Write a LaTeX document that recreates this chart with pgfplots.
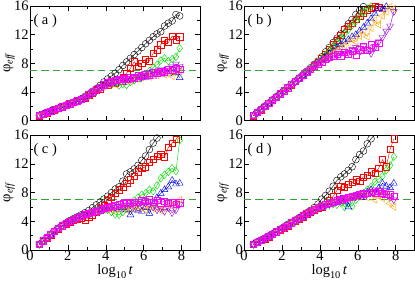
\documentclass[border=0pt]{standalone}
\usepackage{fontspec}
\setmainfont{Liberation Serif}
\usepackage{pgfplots}
\usepackage{pgfplotstable}
\pgfplotsset{compat=1.18}
\usepgfplotslibrary{groupplots}

\definecolor{cgreen}{RGB}{0,220,0}
\definecolor{corange}{RGB}{255,165,0}
\definecolor{cviolet}{RGB}{148,0,211}
\definecolor{cmag}{RGB}{255,0,255}
\definecolor{dashgreen}{RGB}{50,165,50}

\pgfplotstableread{
x k r g b o v m
0.5 0.75 0.70 0.66 0.72 0.70 0.68 0.76
0.7 0.95 0.92 0.88 0.90 0.86 0.93 0.96
0.9 1.15 1.08 1.12 1.10 1.07 1.13 1.14
1.1 1.36 1.32 1.28 1.30 1.27 1.33 1.35
1.3 1.55 1.48 1.52 1.46 1.50 1.53 1.56
1.5 1.76 1.72 1.67 1.70 1.66 1.74 1.75
1.7 1.95 1.88 1.93 1.86 1.91 1.92 1.96
1.9 2.18 2.12 2.06 2.10 2.08 2.14 2.15
2.1 2.38 2.28 2.33 2.26 2.31 2.29 2.36
2.3 2.58 2.53 2.46 2.52 2.47 2.51 2.57
2.5 2.80 2.67 2.74 2.66 2.72 2.70 2.78
2.7 3.05 2.98 2.88 2.93 2.97 2.91 3.02
2.9 3.38 3.20 3.30 3.18 3.24 3.28 3.32
3.1 3.72 3.60 3.48 3.52 3.58 3.50 3.66
3.3 4.10 3.84 3.97 3.82 3.92 3.88 4.02
3.5 4.48 4.26 4.08 4.16 4.22 4.12 4.36
3.7 4.92 4.40 4.62 4.56 4.48 4.58 4.70
3.9 5.40 4.92 4.70 4.78 4.83 4.90 5.02
4.1 5.82 5.02 5.22 5.16 5.00 5.12 5.30
4.3 6.22 5.40 5.00 5.08 5.22 5.32 5.52
4.5 6.62 5.30 5.30 5.22 5.02 5.48 5.62
4.7 7.12 5.82 4.90 5.58 5.40 5.62 5.74
4.9 7.70 6.10 5.12 5.30 5.30 5.70 5.90
5.1 8.20 6.62 5.00 5.72 5.62 5.82 5.80
5.3 8.70 7.30 5.42 5.60 5.48 5.92 6.10
5.5 9.22 8.22 5.62 5.84 5.90 6.02 6.00
5.7 9.70 7.62 5.90 5.70 5.80 6.20 6.30
5.9 10.20 8.00 6.40 6.10 6.02 6.10 6.22
6.1 10.72 8.60 6.20 6.02 6.30 6.40 6.50
6.3 11.20 8.30 6.90 6.50 6.10 6.62 6.42
6.5 11.70 9.40 7.40 6.20 6.52 6.80 6.70
6.7 12.10 9.90 7.80 6.62 6.30 6.90 6.62
6.9 12.40 10.60 8.40 6.40 6.70 7.10 6.90
7.1 13.20 11.20 8.70 6.90 6.40 7.00 6.80
7.3 13.60 10.90 8.30 6.50 6.90 7.30 7.10
7.5 13.90 11.80 8.60 7.10 6.20 7.50 7.00
7.7 14.80 11.30 8.90 6.70 6.60 7.90 7.30
7.9 14.60 11.70 10.10 6.00 6.90 7.60 7.20
}\tA

\pgfplotstableread{
x k r g b o v m
0.5 0.74 0.70 0.67 0.72 0.69 0.66 0.75
0.7 1.18 1.15 1.10 1.12 1.08 1.14 1.16
0.9 1.62 1.54 1.58 1.52 1.56 1.59 1.60
1.1 2.05 2.01 1.95 1.98 1.93 2.00 2.03
1.3 2.48 2.40 2.45 2.38 2.42 2.44 2.46
1.5 2.92 2.88 2.82 2.84 2.80 2.86 2.89
1.7 3.36 3.25 3.30 3.24 3.29 3.27 3.31
1.9 3.78 3.74 3.68 3.70 3.66 3.72 3.75
2.1 4.22 4.12 4.17 4.10 4.15 4.13 4.18
2.3 4.65 4.60 4.54 4.55 4.52 4.58 4.61
2.5 5.08 5.03 5.02 4.96 4.98 5.01 5.04
2.7 5.52 5.46 5.45 5.38 5.40 5.42 5.47
2.9 5.96 5.90 5.88 5.82 5.84 5.83 5.90
3.1 6.42 6.33 6.34 6.24 6.25 6.27 6.32
3.3 6.88 6.78 6.80 6.66 6.70 6.68 6.74
3.5 7.36 7.22 7.25 7.08 7.12 7.10 7.16
3.7 7.84 7.66 7.70 7.50 7.52 7.52 7.58
3.9 8.30 8.12 8.14 7.92 7.82 7.90 7.92
4.1 8.90 8.70 8.62 8.40 8.20 8.20 8.18
4.3 9.60 9.30 9.20 8.80 8.62 8.50 8.52
4.5 10.20 9.90 9.80 9.30 9.00 8.70 8.80
4.7 10.90 10.60 10.32 9.70 9.40 9.02 9.02
4.9 11.50 11.20 10.90 10.20 9.80 9.20 9.22
5.1 12.10 11.90 11.50 10.60 10.12 9.40 9.00
5.3 12.80 12.70 12.10 11.00 10.50 9.62 9.50
5.5 13.50 13.20 12.70 11.30 10.80 9.50 9.30
5.7 14.10 13.60 13.30 11.70 11.30 9.90 9.70
5.9 14.80 14.10 13.90 12.00 11.00 10.20 9.20
6.1 15.40 14.60 14.50 12.50 11.80 9.60 9.90
6.3 15.90 15.00 15.10 13.00 12.40 10.40 10.30
6.5 nan 15.40 15.60 13.60 11.70 9.90 9.80
6.7 nan 15.70 15.90 14.20 12.90 9.40 10.60
6.9 nan 15.90 16.10 14.90 14.00 10.30 10.20
7.1 nan 15.80 nan 15.60 13.40 11.00 10.80
7.3 nan 16.10 nan 15.50 14.60 11.60 nan
7.5 nan nan nan 15.90 15.20 12.50 nan
7.7 nan nan nan nan 15.90 13.20 nan
7.9 nan nan nan nan 15.60 15.20 nan
}\tB

\pgfplotstableread{
x k r g b o v m
0.5 0.84 0.78 0.80 0.76 0.82 0.79 0.85
0.7 1.30 1.22 1.27 1.20 1.24 1.28 1.29
0.9 1.76 1.68 1.72 1.66 1.69 1.73 1.74
1.1 2.20 2.12 2.17 2.10 2.16 2.13 2.19
1.3 2.65 2.58 2.62 2.55 2.60 2.63 2.64
1.5 3.06 2.97 3.02 2.95 3.01 2.98 3.04
1.7 3.42 3.30 3.37 3.31 3.34 3.36 3.39
1.9 3.78 3.62 3.72 3.66 3.71 3.68 3.74
2.1 4.10 3.90 4.02 3.95 3.98 4.03 4.05
2.3 4.38 4.12 4.28 4.20 4.22 4.26 4.30
2.5 4.62 4.30 4.52 4.46 4.48 4.53 4.55
2.7 4.90 4.42 4.74 4.66 4.69 4.72 4.76
2.9 5.20 4.20 4.92 4.85 4.88 4.94 4.96
3.1 5.50 4.60 5.08 5.00 5.02 5.10 5.12
3.3 5.90 4.90 5.24 5.12 5.18 5.22 5.30
3.5 6.30 5.30 5.40 5.28 5.30 5.38 5.46
3.7 6.70 5.80 5.52 5.44 5.46 5.52 5.62
3.9 7.10 6.30 5.70 5.58 5.60 5.66 5.80
4.1 7.50 6.90 5.60 5.74 5.72 5.82 5.98
4.3 8.00 7.40 5.30 5.80 5.62 5.90 6.10
4.5 8.50 7.90 5.00 5.88 5.60 5.98 6.22
4.7 8.80 8.40 4.90 5.70 5.70 6.06 6.40
4.9 9.60 8.80 5.30 5.90 5.90 6.14 6.52
5.1 10.60 9.30 5.80 5.60 5.60 6.20 6.60
5.3 10.90 9.80 6.40 4.90 5.80 6.30 6.48
5.5 11.30 10.30 6.90 5.70 6.00 6.20 6.70
5.7 11.80 10.90 7.30 5.50 5.70 6.50 6.62
5.9 12.50 11.40 7.70 5.40 5.90 6.30 6.90
6.1 13.10 11.60 7.90 5.90 5.60 6.60 6.80
6.3 14.00 12.20 8.40 5.10 6.10 6.40 7.00
6.5 14.90 12.60 8.20 6.40 5.80 6.00 6.70
6.7 15.60 13.10 9.00 7.30 6.30 5.60 6.90
6.9 16.20 13.40 10.00 7.90 5.50 5.80 6.60
7.1 nan 13.00 10.50 8.40 5.90 5.40 6.80
7.3 nan 14.30 10.90 8.80 6.40 5.90 6.50
7.5 nan 14.90 11.40 9.70 6.10 5.20 6.70
7.7 nan 15.40 11.00 9.20 6.60 5.60 6.40
7.9 nan 16.10 15.30 9.30 7.00 6.40 6.60
}\tC

\pgfplotstableread{
x k r g b o v m
0.5 0.84 0.78 0.80 0.76 0.82 0.79 0.85
0.7 1.15 1.07 1.12 1.06 1.10 1.13 1.14
0.9 1.40 1.32 1.37 1.30 1.34 1.36 1.39
1.1 1.66 1.58 1.62 1.55 1.60 1.63 1.64
1.3 1.96 1.86 1.92 1.85 1.90 1.88 1.94
1.5 2.27 2.16 2.23 2.15 2.20 2.18 2.25
1.7 2.58 2.46 2.52 2.44 2.50 2.53 2.55
1.9 2.90 2.75 2.83 2.74 2.80 2.78 2.86
2.1 3.22 3.05 3.12 3.04 3.08 3.13 3.16
2.3 3.56 3.40 3.48 3.38 3.44 3.42 3.50
2.5 3.86 3.70 3.72 3.68 3.76 3.78 3.82
2.7 4.18 4.00 3.98 4.02 4.08 4.04 4.12
2.9 4.50 4.30 4.25 4.28 4.40 4.33 4.42
3.1 4.86 4.64 4.60 4.66 4.76 4.68 4.78
3.3 5.18 4.96 4.92 4.94 5.06 4.98 5.08
3.5 5.52 5.24 5.20 5.26 5.38 5.28 5.40
3.7 5.90 5.55 5.50 5.54 5.70 5.58 5.70
3.9 6.40 5.80 5.76 5.82 5.96 5.84 5.96
4.1 7.10 6.02 5.98 6.00 6.18 6.04 6.16
4.3 7.60 6.40 6.10 6.22 6.35 6.24 6.36
4.5 8.20 6.90 6.30 6.30 6.50 6.42 6.52
4.7 8.90 7.50 6.40 6.60 6.62 6.56 6.68
4.9 9.70 8.30 6.30 6.80 6.80 6.74 6.88
5.1 10.20 8.90 6.60 7.10 6.90 6.88 7.02
5.3 10.60 8.70 6.00 6.80 7.10 7.02 7.18
5.5 11.10 9.20 6.50 6.00 7.20 7.16 7.32
5.7 11.60 9.40 6.10 7.20 7.30 7.32 7.46
5.9 12.60 9.80 7.00 7.40 7.50 7.44 7.60
6.1 13.30 9.60 7.50 7.70 7.40 7.58 7.74
6.3 13.80 10.20 7.90 7.30 7.80 7.66 7.84
6.5 14.80 10.40 8.40 8.10 7.30 7.90 7.96
6.7 15.50 10.90 8.80 8.40 7.90 8.20 8.10
6.9 16.10 10.70 9.50 8.00 7.00 8.40 8.00
7.1 nan 11.40 9.90 8.60 7.60 8.00 8.20
7.3 nan 12.60 10.30 9.30 7.20 7.80 7.90
7.5 nan 11.60 11.10 8.90 7.70 8.30 7.80
7.7 nan 14.00 11.80 8.70 6.50 7.40 7.70
7.9 nan 15.50 13.00 9.30 6.00 7.00 7.50
}\tD

\newcommand{\fs}{\fontsize{14}{16}\selectfont}

% draws all series of one panel
\newcommand{\panel}[2]{%
  \addplot[black, line width=0.4pt, mark=o, mark size=3.3pt, mark options={solid}] table[x=x,y=k]{#1};
  \addplot[red, line width=0.4pt, mark=square, mark size=3.0pt, mark options={solid}] table[x=x,y=r]{#1};
  \addplot[cgreen, line width=0.4pt, mark=diamond, mark size=3.7pt, mark options={solid}] table[x=x,y=g]{#1};
  \addplot[blue, line width=0.4pt, mark=triangle, mark size=3.8pt, mark options={solid}] table[x=x,y=b]{#1};
  \addplot[corange, line width=0.4pt, mark=triangle, mark size=3.8pt, mark options={solid,rotate=90}] table[x=x,y=o]{#1};
  \addplot[cviolet, line width=0.4pt, mark=triangle, mark size=3.8pt, mark options={solid,rotate=180}] table[x=x,y=v]{#1};
  \addplot[cmag, line width=0.4pt, mark=square, mark size=3.0pt, mark options={solid}] table[x=x,y=m]{#1};
  \addplot[color=dashgreen, line width=1.2pt, dash pattern=on 7pt off 4pt, mark=none] coordinates {(0,7) (9,7)};
  \node[anchor=north west, font=\fs, inner sep=0pt] at (rel axis cs:0.02,0.93) {( #2 )};
}

\begin{document}
\begin{tikzpicture}
\begin{groupplot}[
  group style={group size=2 by 2, horizontal sep=42pt, vertical sep=14pt,
    xticklabels at=edge bottom, xlabels at=edge bottom},
  width=165pt, height=111pt, scale only axis,
  xmin=0, xmax=9, ymin=0, ymax=16,
  xtick={0,2,4,6,8}, ytick={0,4,8,12,16},
  minor x tick num=1, minor y tick num=1,
  tick align=inside, major tick length=5pt, minor tick length=3pt,
  tick style={black, line width=0.5pt},
  axis line style={line width=0.6pt},
  /pgf/number format/assume math mode=true,
  tick label style={font=\fs},
  yticklabel style={inner sep=1pt},
  xticklabel style={inner sep=1pt},
  label style={font=\fs},
  ylabel={φ\textsubscript{\itshape eff}},
  ylabel style={yshift=-5pt},
  xlabel={log\raisebox{-0.55ex}{\fontsize{10}{12}\selectfont 10}\,\textit{t}},
  xlabel style={yshift=1pt},
  clip=true,
]
\nextgroupplot
\panel{\tA}{a}
\nextgroupplot
\panel{\tB}{b}
\nextgroupplot
\panel{\tC}{c}
\nextgroupplot
\panel{\tD}{d}
\end{groupplot}
\end{tikzpicture}
\end{document}
